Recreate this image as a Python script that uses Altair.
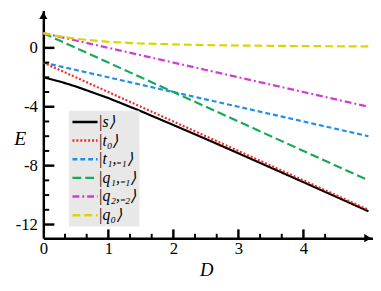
import altair as alt
import pandas as pd

# ---- data ----
D = [0, 0.25, 0.5, 1, 1.5, 2, 2.5, 3, 3.5, 4, 4.5, 5]
E_s = [-2.0, -2.28, -2.62, -3.41, -4.30, -5.24, -6.19, -7.16, -8.14, -9.12, -10.11, -11.10]
E_t0 = [-1.0, -1.5, -2.0, -3.0, -4.0, -5.0, -6.0, -7.0, -8.0, -9.0, -10.0, -11.0]
E_t1 = [-1.0, -1.25, -1.5, -2.0, -2.5, -3.0, -3.5, -4.0, -4.5, -5.0, -5.5, -6.0]
E_q1 = [1.0, 0.5, 0.0, -1.0, -2.0, -3.0, -4.0, -5.0, -6.0, -7.0, -8.0, -9.0]
E_q2 = [1.0, 0.75, 0.5, 0.0, -0.5, -1.0, -1.5, -2.0, -2.5, -3.0, -3.5, -4.0]
E_q0 = [1.0, 0.78, 0.62, 0.41, 0.30, 0.24, 0.19, 0.16, 0.14, 0.12, 0.11, 0.10]

labels = ["|s⟩", "|t₀⟩", "|t₁,₋₁⟩", "|q₁,₋₁⟩", "|q₂,₋₂⟩", "|q₀⟩"]
colors = ["#000000", "#f5281e", "#1f8fe8", "#17a85a", "#d23cd6", "#dcd400"]
dashes = [[1, 0], [2, 2], [5, 3], [9, 4], [7, 3, 2, 3], [8, 4]]

x_label_values = [0, 1, 2, 3, 4]
y_label_values = [0, -4, -8, -12]
y_tick_values = [0, -1, -2, -3, -4, -5, -6, -7, -8, -9, -10, -11, -12]
y_major = [0, -4, -8, -12]
x_tick_values = [k / 3 for k in range(1, 14)]

X_MAX = 5.07
Y_MIN, Y_MAX = -12.93, 2.533

series = [E_s, E_t0, E_t1, E_q1, E_q2, E_q0]
rows = []
for i, (lab, vals) in enumerate(zip(labels, series)):
    for d, e in zip(D, vals):
        rows.append({"D": d, "E": e, "state": lab, "k": i})
df = pd.DataFrame(rows)

xscale = alt.Scale(domain=[0, X_MAX], nice=False, zero=False)
yscale = alt.Scale(domain=[Y_MIN, Y_MAX], nice=False, zero=False)

FONT = "Liberation Serif, Times New Roman, serif"

legend = alt.Legend(
    title=None, orient="none", legendX=26, legendY=102,
    symbolType="M-1.6,0H1.6", symbolSize=256, symbolStrokeWidth=2.5,
    symbolOffset=5, labelOffset=4,
    labelFont=FONT, labelFontSize=16, labelColor="black", labelFontStyle="italic",
    rowPadding=1, padding=2, fillColor="#e8e8e8", strokeColor="#e8e8e8",
    cornerRadius=0,
)

lines = alt.Chart(df).mark_line(strokeWidth=2.2, clip=False).encode(
    x=alt.X("D:Q", scale=xscale, axis=alt.Axis(
        values=x_label_values, labelExpr="'' + datum.value", ticks=False, grid=False,
        domainWidth=2.5, domainColor="black",
        labelFont=FONT, labelFontSize=17, labelColor="black", labelPadding=3,
        labelFlush=False,
        title="D", titleFont=FONT, titleFontSize=19, titleFontStyle="italic",
        titleFontWeight="normal", titleColor="black",
        titleX=166, titleY=32, titleAlign="center", titleBaseline="middle",
    )),
    y=alt.Y("E:Q", scale=yscale, axis=alt.Axis(
        values=y_label_values, labelExpr="'' + datum.value", ticks=False, grid=False,
        domainWidth=2.5, domainColor="black",
        labelFont=FONT, labelFontSize=17, labelColor="black", labelPadding=6,
        title="E", titleFont=FONT, titleFontSize=20, titleFontStyle="italic",
        titleFontWeight="normal", titleColor="black", titleAngle=0,
        titleX=-24, titleY=130, titleAlign="center", titleBaseline="middle",
    )),
    color=alt.Color("state:N", scale=alt.Scale(domain=labels, range=colors), legend=legend),
    strokeDash=alt.StrokeDash("state:N", scale=alt.Scale(domain=labels, range=dashes), legend=legend),
    order="k:Q",
)

# inward ticks
ytk = pd.DataFrame({"v": y_tick_values})
ytk["len"] = [0.17 if v in y_major else 0.09 for v in y_tick_values]
ytk["w"] = [2.5 if v in y_major else 2.0 for v in y_tick_values]
ytk["x0"] = 0.0

y_ticks = alt.Chart(ytk).mark_rule(color="black").encode(
    x=alt.X("x0:Q", scale=xscale), x2="len:Q",
    y=alt.Y("v:Q", scale=yscale),
    strokeWidth=alt.StrokeWidth("w:Q", scale=None),
)

xtk = pd.DataFrame({"v": x_tick_values})
xtk["y0"] = Y_MIN
xtk["y1"] = [Y_MIN + (0.6 if abs(v - round(v)) < 1e-6 else 0.3) for v in x_tick_values]
xtk["w"] = [2.5 if abs(v - round(v)) < 1e-6 else 2.0 for v in x_tick_values]

x_ticks = alt.Chart(xtk).mark_rule(color="black").encode(
    x=alt.X("v:Q", scale=xscale),
    y=alt.Y("y0:Q", scale=yscale), y2="y1:Q",
    strokeWidth=alt.StrokeWidth("w:Q", scale=None),
)

arrows_df = pd.DataFrame({
    "x": [0.0, 4.99], "y": [2.2, Y_MIN], "shape": ["triangle-up", "triangle-right"],
})
arrows = alt.Chart(arrows_df).mark_point(filled=True, color="black", opacity=1, size=70).encode(
    x=alt.X("x:Q", scale=xscale), y=alt.Y("y:Q", scale=yscale),
    shape=alt.Shape("shape:N", scale=None),
)

chart = alt.layer(lines, y_ticks, x_ticks, arrows).properties(
    width=336, height=232,
    padding={"left": 36, "top": 0, "right": 0, "bottom": 43},
    autosize="none",
).configure_view(stroke=None)

chart.save("out.html", embed_options={"renderer": "svg", "actions": False})
